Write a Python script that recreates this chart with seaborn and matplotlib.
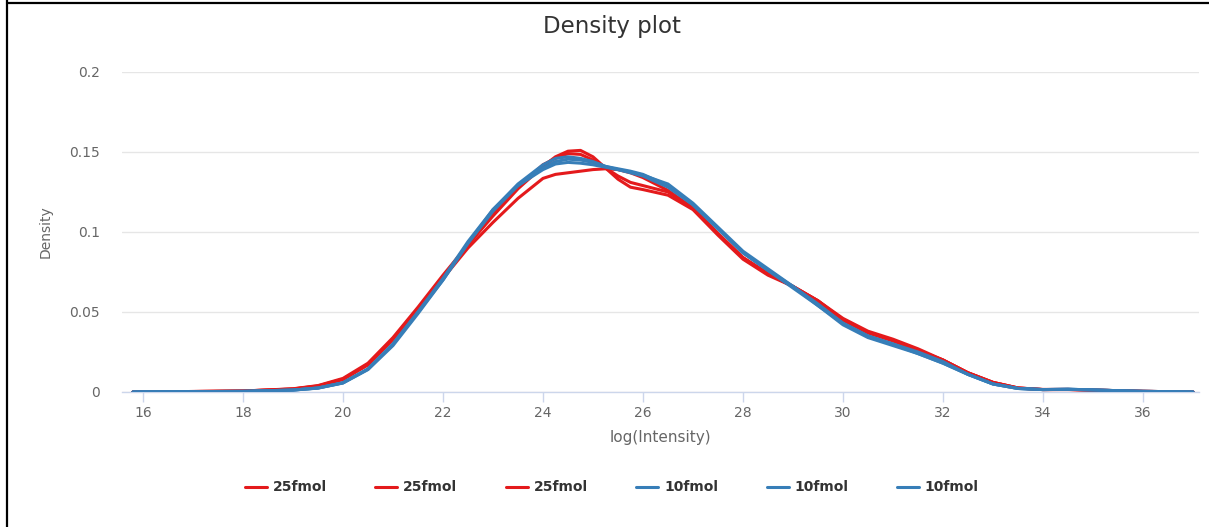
import matplotlib
matplotlib.use("Agg")
import matplotlib.pyplot as plt
from matplotlib.lines import Line2D
import seaborn as sns
import pandas as pd

# log(Intensity) grid at which the densities are evaluated
log_intensity = [15.8, 16, 17, 18, 19, 19.5, 20, 20.5, 21, 21.5, 22, 22.5, 23, 23.5,
                 24, 24.25, 24.5, 24.75, 25, 25.25, 25.5, 25.75, 26, 26.5, 27, 27.5,
                 28, 28.5, 29, 29.5, 30, 30.5, 31, 31.5, 32, 32.5, 33, 33.5, 34, 34.5,
                 35, 35.5, 36, 36.5, 37]

# 25 fmol replicates
dens_25_a = [0, 0.0001, 0.0003, 0.0006, 0.0020, 0.0040, 0.0085, 0.018, 0.034, 0.053,
             0.073, 0.092, 0.110, 0.127, 0.141, 0.147, 0.1505, 0.151, 0.147, 0.140,
             0.133, 0.128, 0.1265, 0.123, 0.114, 0.098, 0.083, 0.073, 0.066, 0.057,
             0.045, 0.037, 0.032, 0.026, 0.020, 0.012, 0.006, 0.0025, 0.0015, 0.0015,
             0.0012, 0.0008, 0.0004, 0.0002, 0]
dens_25_b = [0, 0.0001, 0.0003, 0.0006, 0.0019, 0.0038, 0.0080, 0.017, 0.033, 0.052,
             0.072, 0.092, 0.111, 0.128, 0.142, 0.146, 0.149, 0.1485, 0.145, 0.140,
             0.135, 0.131, 0.129, 0.125, 0.115, 0.099, 0.084, 0.074, 0.066, 0.057,
             0.046, 0.038, 0.033, 0.027, 0.020, 0.012, 0.006, 0.0025, 0.0015, 0.0016,
             0.0012, 0.0008, 0.0004, 0.0002, 0]
dens_25_c = [0, 0.0001, 0.0003, 0.0006, 0.0018, 0.0036, 0.0078, 0.017, 0.033, 0.052,
             0.071, 0.090, 0.106, 0.121, 0.1335, 0.136, 0.137, 0.138, 0.139, 0.1395,
             0.139, 0.137, 0.134, 0.126, 0.115, 0.099, 0.084, 0.074, 0.066, 0.057,
             0.045, 0.037, 0.032, 0.026, 0.020, 0.012, 0.006, 0.0025, 0.0016, 0.0016,
             0.0012, 0.0008, 0.0004, 0.0002, 0]

# 10 fmol replicates
dens_10_a = [0, 0.0001, 0.0002, 0.0004, 0.0012, 0.0025, 0.0058, 0.0145, 0.030, 0.050,
             0.070, 0.093, 0.113, 0.129, 0.140, 0.144, 0.1455, 0.145, 0.1435, 0.141,
             0.1395, 0.138, 0.136, 0.129, 0.117, 0.102, 0.087, 0.076, 0.066, 0.054,
             0.042, 0.034, 0.029, 0.024, 0.018, 0.011, 0.005, 0.0022, 0.0015, 0.0017,
             0.0013, 0.0008, 0.0004, 0.0002, 0]
dens_10_b = [0, 0.0001, 0.0002, 0.0004, 0.0012, 0.0024, 0.0056, 0.0140, 0.029, 0.049,
             0.070, 0.093, 0.114, 0.130, 0.142, 0.146, 0.147, 0.146, 0.144, 0.141,
             0.139, 0.137, 0.135, 0.128, 0.117, 0.102, 0.087, 0.076, 0.065, 0.054,
             0.043, 0.035, 0.030, 0.024, 0.018, 0.011, 0.005, 0.0022, 0.0015, 0.0017,
             0.0013, 0.0008, 0.0004, 0.0002, 0]
dens_10_c = [0, 0.0001, 0.0002, 0.0004, 0.0012, 0.0025, 0.0057, 0.0142, 0.030, 0.050,
             0.071, 0.094, 0.114, 0.129, 0.139, 0.1425, 0.1435, 0.143, 0.142, 0.1405,
             0.139, 0.1375, 0.1355, 0.130, 0.118, 0.103, 0.088, 0.077, 0.066, 0.055,
             0.043, 0.035, 0.030, 0.025, 0.019, 0.011, 0.005, 0.0022, 0.0015, 0.0017,
             0.0013, 0.0008, 0.0004, 0.0002, 0]

series_labels = ["25fmol", "25fmol", "25fmol", "10fmol", "10fmol", "10fmol"]
series_values = [dens_25_a, dens_25_b, dens_25_c, dens_10_a, dens_10_b, dens_10_c]

x_ticks = [16, 18, 20, 22, 24, 26, 28, 30, 32, 34, 36]
y_ticks = [0, 0.05, 0.1, 0.15, 0.2]
y_tick_labels = ["0", "0.05", "0.1", "0.15", "0.2"]

RED = "#e41a1c"
BLUE = "#377eb8"
TEXT = "#666666"
AXIS_BLUE = "#ccd6eb"

sns.set_theme(style="white")
plt.rcParams["font.family"] = ["DejaVu Sans"]

fig = plt.figure(figsize=(12.09, 5.27), dpi=100)
ax = fig.add_axes([0.1009, 0.2562, 0.8908, 0.6072])

for label, vals in zip(series_labels, series_values):
    df = pd.DataFrame({"log(Intensity)": log_intensity, "Density": vals})
    sns.lineplot(data=df, x="log(Intensity)", y="Density", ax=ax,
                 color=RED if label == "25fmol" else BLUE, linewidth=2.2,
                 label=label, legend=False)

ax.set_xlim(15.58, 37.12)
ax.set_ylim(0, 0.2)
ax.set_xticks(x_ticks)
ax.set_xticklabels([str(t) for t in x_ticks])
ax.set_yticks(y_ticks)
ax.set_yticklabels(y_tick_labels)

ax.grid(axis="y", color="#e6e6e6", linewidth=1)
ax.grid(axis="x", visible=False)
ax.set_axisbelow(True)

for side in ["top", "right", "left"]:
    ax.spines[side].set_visible(False)
ax.spines["bottom"].set_color(AXIS_BLUE)
ax.spines["bottom"].set_linewidth(1)
ax.spines["bottom"].set_zorder(0.5)

ax.tick_params(axis="x", length=7, width=1, color=AXIS_BLUE, direction="out",
               labelsize=10, labelcolor=TEXT, pad=3, bottom=True)
ax.tick_params(axis="y", length=0, labelsize=10, labelcolor=TEXT, pad=16)

ax.set_xlabel("log(Intensity)", fontsize=11, color=TEXT, labelpad=7)
ax.set_ylabel("Density", fontsize=10, color=TEXT, labelpad=12)

fig.text(0.506, 0.949, "Density plot", ha="center", va="center",
         fontsize=16.5, color="#333333")

handles, labels = ax.get_legend_handles_labels()
leg = fig.legend(handles, labels, loc="center", bbox_to_anchor=(0.506, 0.075),
                 ncol=6, frameon=False, handlelength=1.6, handletextpad=0.4,
                 columnspacing=3.5, prop={"weight": "bold", "size": 10})
for t in leg.get_texts():
    t.set_color("#333333")

# frame edges along the top and left of the canvas
fig.add_artist(Line2D([7 / 1209, 7 / 1209], [0, 1], transform=fig.transFigure,
                      color="black", linewidth=1.6))
fig.add_artist(Line2D([7 / 1209, 1], [1 - 3 / 527, 1 - 3 / 527],
                      transform=fig.transFigure, color="black", linewidth=1.6))

fig.savefig("out.png", dpi=100, facecolor="white")
